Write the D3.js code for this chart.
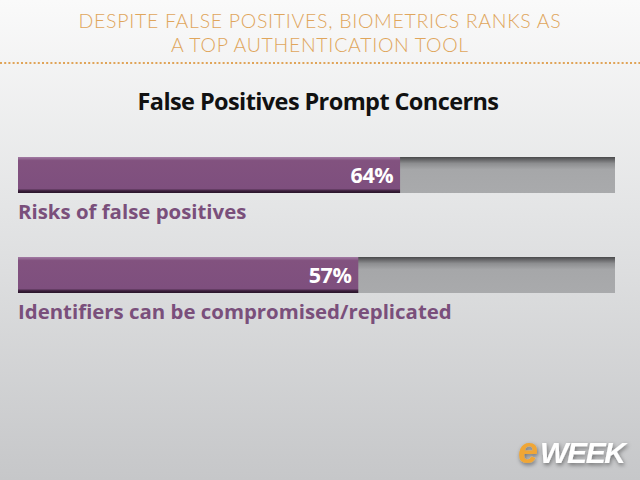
<!DOCTYPE html>
<meta charset="utf-8">
<style>
body { margin:0; overflow:hidden; }
svg { display:block; }
</style>
<div id="chart"></div>
<script src="https://cdnjs.cloudflare.com/ajax/libs/d3/7.8.5/d3.min.js"></script>
<script>

var categories = ["Risks of false positives", "Identifiers can be compromised/replicated"];
var values = [64, 57];
var headline = ["DESPITE FALSE POSITIVES, BIOMETRICS RANKS AS", "A TOP AUTHENTICATION TOOL"];
var chartTitle = "False Positives Prompt Concerns";

var width = 640, height = 480;

var svg = d3.select("#chart").append("svg")
    .attr("width", width)
    .attr("height", height);

var defs = svg.append("defs");

// background gradient, light at top, greyer at bottom
var bg = defs.append("linearGradient").attr("id", "bg")
    .attr("x1", 0).attr("y1", 0).attr("x2", 0).attr("y2", 1);
bg.append("stop").attr("offset", "0%").attr("stop-color", "#fafafa");
bg.append("stop").attr("offset", "45%").attr("stop-color", "#e3e4e5");
bg.append("stop").attr("offset", "100%").attr("stop-color", "#c6c7c9");

// grey track with dark top edge
var track = defs.append("linearGradient").attr("id", "track")
    .attr("x1", 0).attr("y1", 0).attr("x2", 0).attr("y2", 1);
track.append("stop").attr("offset", "0%").attr("stop-color", "#4a4a4c");
track.append("stop").attr("offset", "18%").attr("stop-color", "#8d8e90");
track.append("stop").attr("offset", "35%").attr("stop-color", "#a6a7a9");
track.append("stop").attr("offset", "100%").attr("stop-color", "#a9aaac");

var purple = defs.append("linearGradient").attr("id", "purple")
    .attr("x1", 0).attr("y1", 0).attr("x2", 0).attr("y2", 1);
purple.append("stop").attr("offset", "0%").attr("stop-color", "#a27ba3");
purple.append("stop").attr("offset", "10%").attr("stop-color", "#82527f");
purple.append("stop").attr("offset", "88%").attr("stop-color", "#7e4f7e");
purple.append("stop").attr("offset", "94%").attr("stop-color", "#3a1f3a");
purple.append("stop").attr("offset", "100%").attr("stop-color", "#2a142a");

var shadow = defs.append("filter").attr("id", "shadow")
    .attr("x", "-20%").attr("y", "-40%").attr("width", "140%").attr("height", "180%");
shadow.append("feDropShadow").attr("dx", 1).attr("dy", 2).attr("stdDeviation", 2)
    .attr("flood-color", "#000").attr("flood-opacity", 0.45);

svg.append("rect").attr("width", width).attr("height", height).attr("fill", "url(#bg)");

// headline, one text per line
svg.selectAll("text.headline").data(headline).join("text")
    .attr("class", "headline")
    .attr("x", 320).attr("y", (d, i) => 28 + i * 24)
    .attr("text-anchor", "middle")
    .style("font", "300 19.5px Lato, 'Open Sans', sans-serif")
    .style("letter-spacing", "0.7px")
    .attr("fill", "#e0a65c")
    .text(d => d);

svg.append("line")
    .attr("x1", 0).attr("x2", width).attr("y1", 63).attr("y2", 63)
    .attr("stroke", "#e0a458").attr("stroke-width", 2.2)
    .attr("stroke-dasharray", "2 2.2");

svg.append("text")
    .attr("x", 318).attr("y", 110)
    .attr("text-anchor", "middle")
    .style("font", "bold 23.5px 'Open Sans', sans-serif")
    .style("letter-spacing", "-0.6px")
    .attr("fill", "#111")
    .text(chartTitle);

// scales
var x = d3.scaleLinear().domain([0, 100]).range([18, 615]);
var y = d3.scaleBand().domain(categories).range([157, 357]).paddingInner(0.0).paddingOuter(0);
var barH = 36;

var rows = svg.selectAll("g.row").data(categories).join("g")
    .attr("class", "row")
    .attr("transform", d => `translate(0,${y(d)})`);

rows.append("rect")
    .attr("x", x(0)).attr("y", 0)
    .attr("width", x(100) - x(0)).attr("height", barH)
    .attr("fill", "url(#track)");

rows.append("rect")
    .attr("x", x(0)).attr("y", 0)
    .attr("width", (d, i) => x(values[i]) - x(0)).attr("height", barH)
    .attr("fill", "url(#purple)");

rows.append("text")
    .attr("x", (d, i) => x(values[i]) - 7)
    .attr("y", 26)
    .attr("text-anchor", "end")
    .style("font", "bold 21.5px 'Open Sans', sans-serif")
    .style("letter-spacing", "-0.5px")
    .attr("fill", "#fff")
    .text((d, i) => values[i] + "%");

rows.append("text")
    .attr("x", x(0))
    .attr("y", 62)
    .style("font", "bold 20.4px 'Open Sans', sans-serif")
    .attr("fill", "#7a4f7b")
    .text(d => d);

// logo
var logo = svg.append("g").attr("filter", "url(#shadow)")
    .style("font", "italic 900 30px 'Liberation Sans', Arial, sans-serif");
logo.append("text")
    .attr("x", 518).attr("y", 463)
    .attr("fill", "#f0a635")
    .style("font-size", "36px")
    .text("e");
logo.append("text")
    .attr("x", 540).attr("y", 463)
    .attr("fill", "#fff")
    .style("letter-spacing", "-2px")
    .attr("textLength", 84)
    .text("WEEK");

</script>
